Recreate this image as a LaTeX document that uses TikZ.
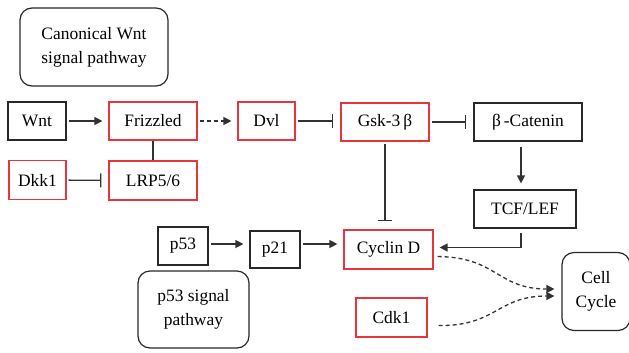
\documentclass[tikz,border=0pt]{standalone}
\usepackage{fontspec}
\setmainfont{Liberation Serif}
\usetikzlibrary{arrows.meta}
\definecolor{boxred}{RGB}{232,52,60}
\definecolor{boxgray}{RGB}{40,40,40}
\definecolor{linegray}{RGB}{50,50,50}
\begin{document}
\begin{tikzpicture}[x=1bp,y=-1bp,
    every node/.style={font=\fontsize{17.5}{24}\selectfont},
    box/.style={draw=boxgray,line width=1.2bp,minimum height=38bp,inner sep=0pt},
    redbox/.style={box,draw=boxred},
    roundbox/.style={box,rounded corners=12bp,align=center},
    act/.style={-{Triangle[length=8bp,width=8bp]},line width=1.3bp,draw=linegray,shorten >=6bp,shorten <=2bp},
    inh/.style={-{Bar[width=14bp,line width=1.3bp]},line width=1.3bp,draw=linegray,shorten >=7bp,shorten <=2bp},
    dashact/.style={act,dash pattern=on 4bp off 3bp}]
      \useasboundingbox (0,0) rectangle (629,352);
      \node[roundbox,minimum width=148bp,minimum height=78bp] (canon) at (94,47) {Canonical Wnt\\signal pathway};
      \node[box,minimum width=58bp] (wnt) at (37,121) {Wnt};
      \node[redbox,minimum width=88bp] (frizzled) at (153,121) {Frizzled};
      \node[redbox,minimum width=57bp] (dvl) at (266.5,121) {Dvl};
      \node[redbox,minimum width=88bp] (gsk) at (385,122) {Gsk-3\,β};
      \node[box,minimum width=108bp] (catenin) at (528,122) {β\,-Catenin};
      \node[redbox,minimum width=57bp,minimum height=39bp] (dkk) at (37.5,180) {Dkk1};
      \node[redbox,minimum width=88bp,minimum height=39bp] (lrp) at (153,180.5) {LRP5/6};
      \node[box,minimum width=102bp] (tcf) at (525,209) {TCF/LEF};
      \node[redbox,minimum width=89bp,minimum height=39bp] (cyclin) at (388.5,249.5) {Cyclin D};
      \node[box,minimum width=50bp] (pfiftythree) at (183,246) {p53};
      \node[box,minimum width=50bp,minimum height=37bp] (ptwentyone) at (275,249.5) {p21};
      \node[redbox,minimum width=71bp,minimum height=39bp] (cdk) at (391.5,317.5) {Cdk1};
      \node[roundbox,minimum width=111bp,minimum height=77bp] (psignal) at (193.5,309.5) {p53 signal\\pathway};
      \node[roundbox,minimum width=68bp,minimum height=78bp] (cellcycle) at (596,291.5) {Cell\\Cycle};
      \draw[act] (wnt) -- (frizzled);
      \draw[dashact] (frizzled) -- (dvl);
      \draw[inh] (dvl) -- (dvl -| gsk.west);
      \draw[inh] (gsk.east |- catenin) -- (catenin);
      \draw[line width=1.3bp,draw=linegray] (frizzled) -- (lrp);
      \draw[inh] (dkk) -- (lrp);
      \draw[act,shorten <=5bp] (catenin.south -| 521,0) -- (tcf.north -| 521,0);
      \draw[inh,shorten >=8bp] (gsk) -- (gsk |- cyclin.north);
      \draw[act,shorten <=4bp] (tcf.south -| 521,0) |- ([yshift=2bp]cyclin.east);
      \draw[act] (pfiftythree.east |- 0,244) -- (ptwentyone.west |- 0,244);
      \draw[act] (ptwentyone.east |- 0,244) -- (cyclin.west |- 0,244);
      \draw[dashact,shorten <=4bp,shorten >=7bp] ([yshift=-7bp]cyclin.east) .. controls (497,257) and (497,289) .. ([yshift=2.5bp]cellcycle.west);
      \draw[dashact,shorten <=11bp,shorten >=7bp] ([yshift=-8bp]cdk.east) .. controls (497,326) and (497,296) .. ([yshift=-4.5bp]cellcycle.west);
\end{tikzpicture}
\end{document}
